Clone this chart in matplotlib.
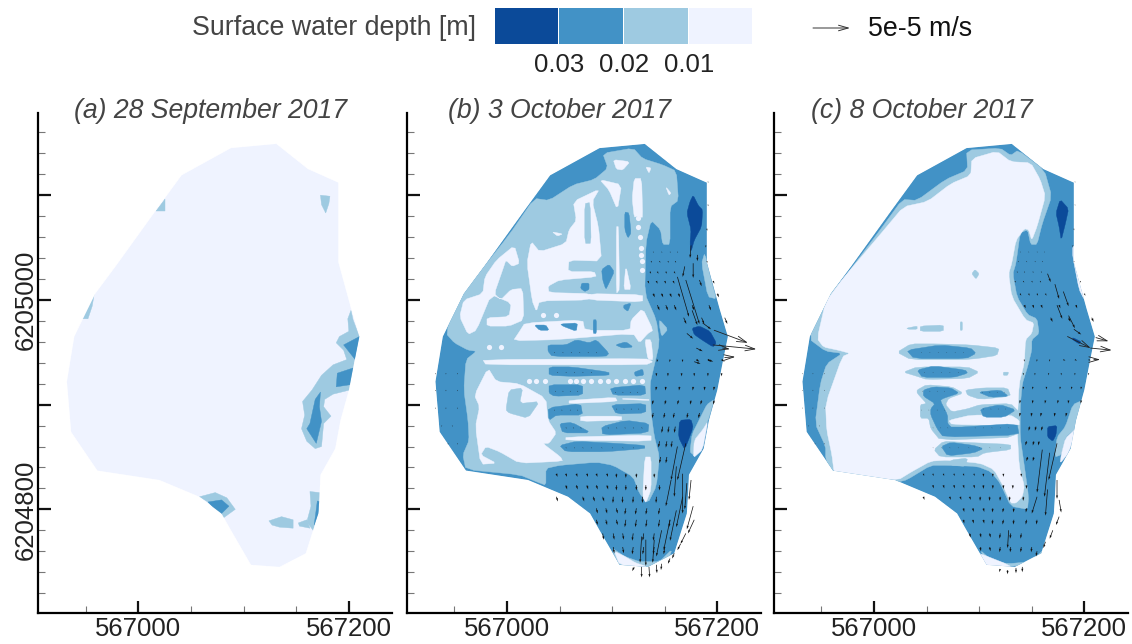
import matplotlib
matplotlib.use("Agg")
import matplotlib.pyplot as plt
from matplotlib.patches import Polygon
from matplotlib.ticker import MultipleLocator, FixedLocator

plt.rcParams['font.family'] = ['Liberation Sans', 'DejaVu Sans']

W, H = 1132, 644

# map origin, all outlines below are metres from this point
E0, N0 = 567000, 6205000

level_labels = ['0.03', '0.02', '0.01']
DARK, MID, LIGHT, PALE = '#0b4a99', '#4292c6', '#9ecae1', '#eff3ff'
legend_colors = [DARK, MID, LIGHT, PALE]
titles = ['(a) 28 September 2017', '(b) 3 October 2017', '(c) 8 October 2017']
title_centres = [210, 560, 922]

outline = [(131, 149), (161, 125), (190, 112), (190, 36), (202, -8), (210, -35), (205, -60), (200, -86),
           (192, -115), (187, -142), (173, -167), (172, -188), (171, -204), (159, -242), (134, -255),
           (107, -253), (88, -220), (79, -204), (58, -188), (20, -172), (-39, -163), (-64, -126),
           (-68, -78), (-61, -35), (-41, 6), (-21, 33), (17, 86), (41, 119), (88, 145)]

# panel a
a_light = [[(25, 96), (25, 85), (17, 85)],
           [(173, 100), (182, 99), (181, 92), (178, 83), (174, 91)],
           [(-42, 6), (-44, -6), (-48, -18), (-54, -18), (-50, -6)],
           [(202, -10), (204, -19), (210, -35), (205, -60), (201, -86), (185, -90), (177, -95), (176, -102),
            (183, -111), (176, -118), (174, -140), (168, -142), (160, -135), (155, -123), (158, -110),
            (156, -97), (165, -86), (174, -72), (185, -62), (198, -57), (195, -48), (188, -41), (191, -35),
            (200, -30), (199, -18)],
           [(58, -188), (73, -184), (84, -189), (92, -200), (81, -208), (77, -205), (66, -193)],
           [(124, -211), (136, -207), (147, -210), (147, -218), (134, -217), (127, -215)],
           [(152, -213), (160, -210), (163, -218), (153, -216)],
           [(163, -183), (172, -184), (172, -200), (166, -220), (160, -212), (164, -197)]]
a_mid = [[(210, -35), (206, -57), (195, -43)],
         [(204, -65), (201, -81), (188, -83), (189, -70)],
         [(173, -88), (168, -95), (163, -118), (160, -123), (169, -137), (174, -116), (172, -102)],
         [(66, -193), (79, -191), (86, -197), (78, -205)],
         [(170, -192), (173, -193), (171, -204), (167, -215), (169, -200)]]

# panel b
b_light = [[(26, 97), (40, 95), (63, 110), (83, 115), (96, 126), (91, 140), (120, 145), (129, 135), (148, 129),
            (161, 123), (163, 95), (155, 89), (155, 53), (148, 53), (146, 67), (137, 76), (132, 54), (131, 6),
            (142, -19), (145, -41), (139, -67), (136, -80), (137, -108), (140, -130), (145, -150), (142, -178),
            (134, -194), (126, -185), (120, -169), (101, -158), (85, -155), (50, -158), (37, -161), (37, -177),
            (29, -174), (12, -167), (-39, -162), (-42, -148), (-36, -134), (-37, -115), (-41, -86), (-39, -57),
            (-29, -49), (-37, -48), (-50, -41), (-58, -32), (-47, 2), (-36, 14), (2, 62)],
           [(188, 45), (194, 19), (199, 1), (191, 3), (185, 35)],
           [(145, -19), (153, -28), (147, -35), (145, -25)],
           [(197, -95), (191, -116), (186, -124), (178, -134), (177, -148), (174, -145), (176, -128), (184, -112),
            (190, -100)],
           [(100, -237), (112, -245), (126, -250), (145, -250), (157, -238), (152, -252), (130, -256), (105, -254)]]
b_pale = [[(101, 134), (117, 132), (110, 124), (104, 125)],
          [(132, 127), (137, 126), (135, 121)],
          [(151, 108), (156, 102), (154, 100)],
          [(88, 115), (109, 110), (105, 86), (97, 105)],
          [(121, 116), (128, 116), (129, 79), (127, 79), (124, 80), (121, 79), (119, 97)],
          [(7, 52), (12, 35), (5, 32), (-1, 38), (-4, 29), (-12, 6), (-6, 0), (4, 10), (15, 11), (16, -19), (2, -25),
           (-19, -25), (-19, -17), (2, -16), (4, -3), (-15, 5), (-29, -29), (-37, -33), (-45, -16), (-41, 0),
           (-23, 6), (-21, 22), (-10, 38)],
          [(23, 56), (31, 46), (56, 54), (59, 67), (66, 76), (63, 94), (88, 106), (81, 94), (87, 70), (90, 37),
           (59, 38), (58, 27), (83, 27), (85, 22), (50, 19), (39, 13), (40, 7), (80, 6), (78, 0), (31, -1),
           (28, -11), (24, -1), (19, 35)],
          [(17, -22), (72, -19), (74, -29), (117, -29), (118, -19), (129, -8), (139, -29), (134, -32), (126, -41),
           (120, -32), (47, -38), (6, -39), (12, -30)],
          [(78, 6), (129, 5), (129, -2), (78, 0)],
          [(104, 70), (106, 70), (107, 10), (104, 6)],
          [(113, 33), (118, 10), (111, 10)],
          [(43, 65), (53, 63), (48, 61)],
          [(-23, -57), (132, -56), (139, -59), (132, -62), (-20, -62)],
          [(131, -38), (137, -38), (139, -57), (134, -57)],
          [(59, -96), (103, -93), (105, -97), (59, -99)],
          [(110, -94), (135, -95), (135, -96), (110, -95)],
          [(70, -111), (109, -111), (109, -115), (70, -116)],
          [(56, -131), (137, -129), (137, -135), (56, -134)],
          [(-18, -65), (-10, -78), (12, -80), (37, -94), (39, -115), (47, -127), (40, -137), (34, -137), (51, -150),
           (53, -154), (12, -156), (-7, -145), (-20, -140), (-25, -148), (-10, -156), (-25, -157), (-30, -121),
           (-26, -102), (-31, -91)],
          [(131, -150), (137, -150), (137, -181), (132, -194), (129, -188)],
          [(191, -116), (186, -143), (177, -151), (178, -134), (186, -124)],
          [(107, -253), (134, -255), (122, -251), (112, -245), (102, -240)]]
b_beads_e = [125, 125, 126, 127, 127, 128, 128, 21, 28, 36, 60, 66, 72, 80, 88, 96, 104, 112, 120, 128, -17, -6, 31, 39, 34, 47]
b_beads_n = [78, 70, 60, 50, 43, 37, 29, -77, -77, -77, -77, -77, -77, -77, -77, -77, -77, -77, -77, -77, -45, -45, 32, 32, -14, -14]
b_light_top = [[(74, 92), (79, 93), (80, 54), (74, 54)],
               [(2, -86), (15, -84), (12, -99), (31, -97), (20, -113), (2, -108), (-1, -105)]]
b_mid = [[(112, 84), (116, 83), (118, 64), (115, 59), (112, 67)],
         [(90, 29), (97, 34), (102, 27), (97, 16), (94, 10), (91, 19)],
         [(71, 16), (78, 16), (78, 10), (74, 8), (70, 11)],
         [(111, -5), (118, -3), (115, -11), (111, -8)],
         [(26, -24), (37, -24), (40, -29), (31, -29)],
         [(51, -23), (67, -22), (66, -30), (53, -25)],
         [(82, -19), (85, -19), (85, -32), (82, -32)],
         [(39, -49), (39, -43), (56, -43), (66, -38), (78, -41), (85, -38), (97, -51), (94, -54), (43, -54)],
         [(103, -43), (113, -40), (120, -45), (110, -46)],
         [(40, -64), (62, -64), (97, -69), (97, -72), (62, -73), (40, -72)],
         [(121, -69), (129, -66), (130, -72), (122, -73)],
         [(40, -81), (72, -81), (72, -91), (45, -92), (40, -89)],
         [(98, -84), (131, -81), (132, -91), (101, -91)],
         [(39, -103), (70, -99), (72, -110), (47, -110), (40, -115)],
         [(99, -100), (132, -99), (132, -108), (104, -109)],
         [(50, -118), (62, -117), (80, -127), (53, -127)],
         [(90, -121), (113, -115), (135, -118), (134, -127), (91, -129)],
         [(50, -139), (66, -135), (104, -137), (131, -139), (131, -142), (94, -145), (56, -145)]]
b_dark = [[(177, 100), (182, 90), (186, 86), (185, 70), (178, 57), (175, 46), (174, 54), (175, 67), (171, 83), (174, 94)],
          [(176, -27), (183, -25), (193, -30), (199, -41), (196, -45), (185, -38), (178, -33)],
          [(164, -115), (175, -114), (177, -122), (169, -143), (163, -131)]]

# panel c
c_light = [[(27, 96), (41, 95), (68, 115), (89, 124), (88, 143), (120, 145), (130, 138), (137, 143), (162, 124),
            (169, 99), (160, 73), (155, 53), (149, 53), (146, 67), (139, 64), (135, 35), (132, 25), (136, 3),
            (146, -14), (155, -18), (157, -32), (150, -38), (150, -48), (146, -64), (141, -80), (139, -102),
            (139, -131), (143, -159), (147, -188), (146, -200), (130, -197), (120, -175), (111, -164), (98, -159),
            (70, -158), (54, -158), (31, -172), (22, -174), (-8, -169), (-35, -166), (-41, -164), (-46, -151),
            (-46, -140), (-56, -118), (-51, -80), (-45, -61), (-30, -51), (-46, -49), (-62, -37), (-48, 0),
            (-30, 19), (6, 67)],
           [(200, -95), (189, -100), (182, -121), (174, -131), (172, -150), (178, -148), (182, -131), (192, -123)],
           [(101, -239), (111, -248), (127, -252), (149, -250), (163, -237), (160, -247), (133, -255), (108, -251)]]
c_pale = [[(28, 89), (51, 94), (73, 111), (92, 119), (93, 135), (117, 142), (130, 132), (149, 131), (158, 115),
           (163, 99), (155, 70), (150, 57), (147, 67), (143, 68), (135, 57), (131, 35), (128, 25), (131, 3),
           (144, -19), (152, -22), (150, -32), (144, -38), (143, -60), (138, -80), (136, -121), (138, -159),
           (143, -178), (141, -188), (135, -194), (130, -194), (123, -178), (114, -162), (101, -156), (70, -153),
           (54, -154), (36, -164), (23, -172), (-8, -169), (-35, -166), (-38, -164), (-40, -148), (-45, -124),
           (-46, -99), (-30, -54), (-23, -51), (-34, -48), (-48, -45), (-54, -37), (-46, -2), (-29, 21), (8, 65)],
          [(192, 51), (198, 13), (200, 0), (195, 10), (189, 41), (189, 51)],
          [(193, -121), (185, -146), (177, -156), (178, -148), (182, -132), (192, -123)],
          [(100, -242), (108, -256), (131, -255), (123, -251), (108, -245)]]
c_light_top = [[(22, -50), (35, -42), (60, -42), (92, -43), (119, -46), (117, -53), (98, -56), (85, -57), (35, -57)],
               [(28, -69), (41, -64), (89, -64), (100, -69), (89, -75), (50, -76), (41, -73)],
               [(123, -69), (128, -69), (127, -72), (123, -72)],
               [(41, -86), (50, -81), (74, -83), (85, -89), (71, -94), (68, -100), (74, -107), (89, -104), (101, -100),
                (130, -99), (138, -107), (138, -131), (63, -134), (54, -123), (52, -113), (44, -113), (44, -100),
                (50, -99), (41, -89)],
               [(87, -86), (104, -84), (127, -84), (130, -92), (101, -95), (89, -91)],
               [(57, -143), (66, -135), (85, -136), (130, -138), (130, -143), (105, -146), (98, -150), (63, -150)],
               [(31, -27), (41, -25), (41, -28), (33, -28)],
               [(44, -25), (66, -24), (66, -30), (44, -30)],
               [(96, 29), (100, 25), (97, 20), (93, 25)],
               [(82, -21), (84, -21), (84, -29), (82, -29)],
               [(73, -153), (89, -151), (87, -159), (73, -158)]]
c_pale_top = [[(71, -115), (92, -110), (130, -110), (138, -115), (138, -120), (74, -119)]]
c_mid = [[(31, -48), (63, -43), (92, -46), (97, -51), (88, -56), (38, -56)],
         [(41, -67), (57, -63), (87, -67), (89, -70), (76, -74), (46, -74)],
         [(47, -86), (57, -83), (73, -84), (81, -89), (66, -94), (63, -96), (70, -110), (70, -118), (74, -122),
          (136, -118), (138, -129), (66, -131), (60, -123), (54, -110), (54, -104), (58, -99), (47, -92)],
         [(101, -104), (120, -100), (135, -105), (124, -112), (104, -112)],
         [(99, -88), (120, -86), (128, -92), (111, -93)],
         [(64, -140), (73, -136), (95, -139), (104, -142), (95, -146), (70, -149)]]
c_dark = [[(177, 96), (185, 87), (182, 73), (178, 57), (176, 70), (173, 83)],
          [(189, -36), (197, -40), (195, -42), (189, -38)],
          [(165, -121), (174, -120), (173, -129), (170, -135), (165, -131)]]

# small arrows: northing, eastings of the row, then (u, v) as drawn in b and in c (35 m on the map = 5e-5 m/s)
arrow_rows = [
    (113, [191], 0.4, -1.2, 0.3, -1), (91, [191], 0.4, -1.5, 0.3, -1), (68, [190], 0.3, -2, 0.3, -1.5),
    (52, [189], 0, -2, 0, -1.5), (46, [139, 147, 155, 162], 0.6, -1, 0.5, -0.8),
    (37, [137, 145, 153, 160, 190], 0.8, -1.5, 0.6, -1), (27, [136, 143, 151, 159], 1, -2, 0.6, -1.2),
    (18, [134, 142, 150, 158, 196], 1.2, -2.5, 0.8, -1.5), (6, [139, 147, 155, 163, 200], 1.5, -3.5, 1, -2),
    (-5, [143, 151, 159, 176, 192], 2, -5, 1.2, -3), (-17, [168, 185, 207], 2.5, -6, 1.8, -4),
    (-57, [143, 155, 167], -0.5, -2.5, -0.3, -2), (-57, [180, 191, 204], 3, -2, 2, -1),
    (-70, [142, 153, 166, 178, 191, 204], 0, -3, 0, -2), (-83, [142, 151, 164, 177, 188, 197], -0.5, -3.5, -0.3, -2.5),
    (-96, [139, 151, 163, 175, 185, 197], -1, -4, -0.5, -3), (-108, [139, 150, 159, 172, 183], -1, -5, -0.7, -3.5),
    (-121, [148, 154, 160], -1, -6, -1, -4), (-135, [145, 152, 157], -1, -6, -1, -4),
    (-150, [146, 152], -1, -6, -1, -4),
    (-166, [47, 56, 66, 76, 85, 95], 1, -3, 0.7, -2.2), (-166, [104, 113, 123, 140], 0, -4, 0, -3),
    (-177, [56, 66, 76, 85, 95], 1.2, -4, 0.8, -3), (-177, [104, 113, 123, 132, 145], 0, -5, 0, -3.5),
    (-188, [47, 72, 82, 91], 1.4, -4.5, 1, -3), (-188, [101, 110, 120, 129, 142], -0.3, -6, -0.2, -4),
    (-199, [85, 94, 104], 1.2, -5, 0.8, -3.5), (-199, [113, 123, 133, 145], -1, -6, -0.6, -4),
    (-210, [85, 94, 104], 1.2, -5, 0.8, -3.5), (-210, [113, 123, 133, 145, 155], -1, -7, -0.7, -4.5),
    (-223, [91, 101, 110], 1, -6, 0.8, -4), (-223, [120, 130, 140], -1, -7, -0.6, -5),
    (-236, [101, 110], 1, -6, 0.7, -4), (-236, [120, 130, 140, 150], -1, -7, -0.6, -5),
    (-70, [-68, -58, -47], 0, -1.2, 0, -1), (-86, [-68, -58, -47], 0, -1.2, 0, -1),
    (-103, [-68, -58, -47], 0, -1.2, 0, -1), (-120, [-62, -52], 0, -1.2, 0, -1),
    (-137, [-56, -47], 0, -1.2, 0, -1),
    (-50, [45, 53, 61, 69, 77, 85], 0.6, -0.8, 0.5, -0.6), (-69, [48, 56, 64, 72, 80], 0.6, -0.8, 0.5, -0.6),
    (-87, [46, 53, 60, 67], 0.6, -0.8, 0.5, -0.6), (-88, [103, 110, 117, 124], 0.6, -0.8, 0.5, -0.6),
    (-105, [45, 52, 60, 67], 0.6, -0.8, 0.5, -0.6), (-104, [104, 111, 118, 125], 0.6, -0.8, 0.5, -0.6),
    (-122, [56, 63, 70, 96, 104, 112, 120, 128], 0.8, -0.8, 0.5, -0.6),
    (-141, [56, 64, 72, 80, 90, 100, 110, 120], 0.6, -0.8, 0.5, -0.6),
]

# long arrows read one by one: east, north, u, v
long_b = [(162, 22, 11, -38), (170, 19, 13, -42), (169, 32, -2, -10), (177, 35, 0, -14), (181, 43, 0, -6),
          (183, 19, 2, -6), (175, 52, -1, -12), (171, -32, 6, -5), (180, -46, 6, -3), (178, -59, 6, -2),
          (191, -57, 5, -2), (186, -22, 8, -6), (176, -10, 5, -14),
          (121, -255, -2, -4), (128, -255, 0, -10), (135, -255, 0.6, -10), (142, -253, 0.6, -8), (147, -252, -0.6, -6),
          (155, -247, -2, -5), (159, -242, -2, -5), (165, -233, -3, -6), (170, -223, -5, -10), (178, -210, -6, -13),
          (177, -197, -6, -22), (175, -172, -2, -19), (128, -226, -1.5, -25), (132, -229, 0, -25), (140, -229, -1.5, -22),
          (147, -220, -5, -25), (155, -210, -6, -29), (161, -201, -6, -29), (167, -188, -6, -29), (156, -172, -5, -25),
          (162, -140, -6, -32), (170, -137, -8, -35), (167, -166, 0, -38), (161, -159, -2, -29), (171, -175, -2, -25)]
long_c = [(165, 25, 3, -8), (172, 15, 4, -14), (180, 8, 5, -14), (174, -5, 5, -13), (185, -15, 6, -12), (190, -28, 7, -5),
          (160, -143, -5, -41), (167, -146, -5, -42), (174, -137, -8, -35), (155, -188, -5, -16), (165, -181, -2, -25),
          (174, -172, 0, -18), (176, -191, 2, -12), (176, -207, -3, -8), (170, -220, -3, -8), (163, -231, -2, -6),
          (155, -240, -1, -5), (141, -255, 0, -5), (135, -256, 0, -5), (127, -258, 0, -4), (120, -257, -1, -3),
          (128, -220, -1, -17)]
# the arrows leaving the east side have open heads
exit_b = [(197, -29, 32, -12), (196, -43, 41, -4), (207, -55, 10, 0.6), (205, -46, 7, -1)]
exit_c = [(211, -36, 12, -3.5), (206, -46, 20, -2), (184, -35, 22, -11), (209, -57, 6, 0)]


def px_axes(left, top, right, bottom):
    return fig.add_axes([left / W, 1 - bottom / H, (right - left) / W, (bottom - top) / H])


def round_corners(poly, cut=0.15):
    # one pass of corner cutting, the contours of b and c are soft
    out = []
    for i, (e, n) in enumerate(poly):
        e2, n2 = poly[(i + 1) % len(poly)]
        out.append(((1 - cut) * e + cut * e2, (1 - cut) * n + cut * n2))
        out.append((cut * e + (1 - cut) * e2, cut * n + (1 - cut) * n2))
    return out


def fill_layer(ax, polys, color, clip, soft):
    for poly in polys:
        shape = round_corners(poly) if soft else poly
        pts = [(E0 + e, N0 + n) for e, n in shape]
        patch = Polygon(pts, closed=True, fc=color, ec=color, lw=0.3, zorder=2)
        ax.add_patch(patch)
        patch.set_clip_path(clip)


def draw_arrows(ax, rows, longs, exits, ui, vi):
    xs, ys, us, vs = [], [], [], []
    for row in rows:
        for e in row[1]:
            xs.append(E0 + e)
            ys.append(N0 + row[0])
            us.append(row[ui])
            vs.append(row[vi])
    for e, n, u, v in longs:
        xs.append(E0 + e)
        ys.append(N0 + n)
        us.append(u)
        vs.append(v)
    ax.quiver(xs, ys, us, vs, angles='xy', scale_units='xy', scale=1, width=0.002, headwidth=3, headlength=5,
              headaxislength=4.5, minlength=0, color='#111111', zorder=5)
    for e, n, u, v in exits:
        ax.annotate('', xy=(E0 + e + u, N0 + n + v), xytext=(E0 + e, N0 + n), zorder=5, annotation_clip=False,
                    arrowprops=dict(arrowstyle='->,head_length=0.7,head_width=0.2', lw=0.6, color='#222222',
                                    shrinkA=0, shrinkB=0))


def style_axes(ax):
    ax.set_xlim(566904.5, 567241)
    ax.set_ylim(6204701, 6205178.5)
    ax.patch.set_alpha(0)
    for side in ['top', 'right']:
        ax.spines[side].set_visible(False)
    for side in ['left', 'bottom']:
        ax.spines[side].set_linewidth(1.6)
    ax.xaxis.set_major_locator(FixedLocator([567000, 567200]))
    ax.xaxis.set_minor_locator(MultipleLocator(50))
    ax.yaxis.set_major_locator(MultipleLocator(100))
    ax.yaxis.set_minor_locator(MultipleLocator(20))
    ax.tick_params(which='major', direction='in', length=9, width=1.6, color='#111111')
    ax.tick_params(which='minor', direction='in', length=5, width=0.8, color='#777777')
    ax.tick_params(axis='x', which='major', labelsize=18.5, pad=3, labelcolor='#222222')
    ax.ticklabel_format(useOffset=False, style='plain')
    ax.tick_params(axis='y', which='major', labelleft=False)


fig = plt.figure(figsize=(W / 100, H / 100), dpi=100)

panels = [
    (38, PALE, [(LIGHT, a_light), (MID, a_mid)], False),
    (406.5, MID, [(LIGHT, b_light), (PALE, b_pale), (LIGHT, b_light_top), (MID, b_mid), (DARK, b_dark)], True),
    (773.5, MID, [(LIGHT, c_light), (PALE, c_pale), (LIGHT, c_light_top), (PALE, c_pale_top), (MID, c_mid),
                  (DARK, c_dark)], True),
]
axes_list = []
for i, (left, base, layers, soft) in enumerate(panels):
    ax = px_axes(left, 113, left + 354, 613)
    style_axes(ax)
    fig.text(title_centres[i] / W, 1 - 110.5 / H, titles[i], fontsize=19.2, style='italic', color='#444444',
             ha='center', va='center')
    clip = Polygon([(E0 + e, N0 + n) for e, n in outline], closed=True, transform=ax.transData)
    fill_layer(ax, [outline], base, clip, False)
    for color, polys in layers:
        fill_layer(ax, polys, color, clip, soft)
    axes_list.append(ax)

axes_list[1].scatter([E0 + e for e in b_beads_e], [N0 + n for n in b_beads_n], s=14, color=PALE, lw=0, zorder=3)
draw_arrows(axes_list[1], arrow_rows, long_b, exit_b, 2, 3)
draw_arrows(axes_list[2], arrow_rows, long_c, exit_c, 4, 5)

# y ticks every 100 m, only two of them labelled
ax0 = axes_list[0]
ax0.tick_params(axis='y', which='major', labelleft=True, labelsize=18.5, pad=0, labelcolor='#222222')
ax0.set_yticks([6204800, 6204900, 6205000, 6205100], labels=['6204800', '', '6205000', ''])
for lab in ax0.get_yticklabels():
    lab.set_rotation(90)
    lab.set_va('center')

# legend
leg = px_axes(494, 8, 753, 44)
leg.bar(range(4), [1, 1, 1, 1], width=0.98, color=legend_colors)
leg.set_xlim(-0.5, 3.5)
leg.set_ylim(0, 1)
leg.axis('off')
for i, lab in enumerate(level_labels):
    fig.text((559 + 65 * i) / W, 1 - 65 / H, lab, fontsize=18.5, ha='center', va='center', color='#222222')
fig.text(476 / W, 1 - 28 / H, 'Surface water depth [m]', fontsize=19.3, ha='right', va='center', color='#444444')
fig.text(868 / W, 1 - 29 / H, '5e-5 m/s', fontsize=19.3, ha='left', va='center', color='#111111')
fig.add_artist(plt.Annotation('', xy=(850 / W, 1 - 28 / H), xytext=(813 / W, 1 - 28 / H), xycoords='figure fraction',
                              textcoords='figure fraction',
                              arrowprops=dict(arrowstyle='->,head_length=0.7,head_width=0.2', lw=0.7, color='#333333',
                                              shrinkA=0, shrinkB=0)))

fig.savefig('out.png', dpi=100)
